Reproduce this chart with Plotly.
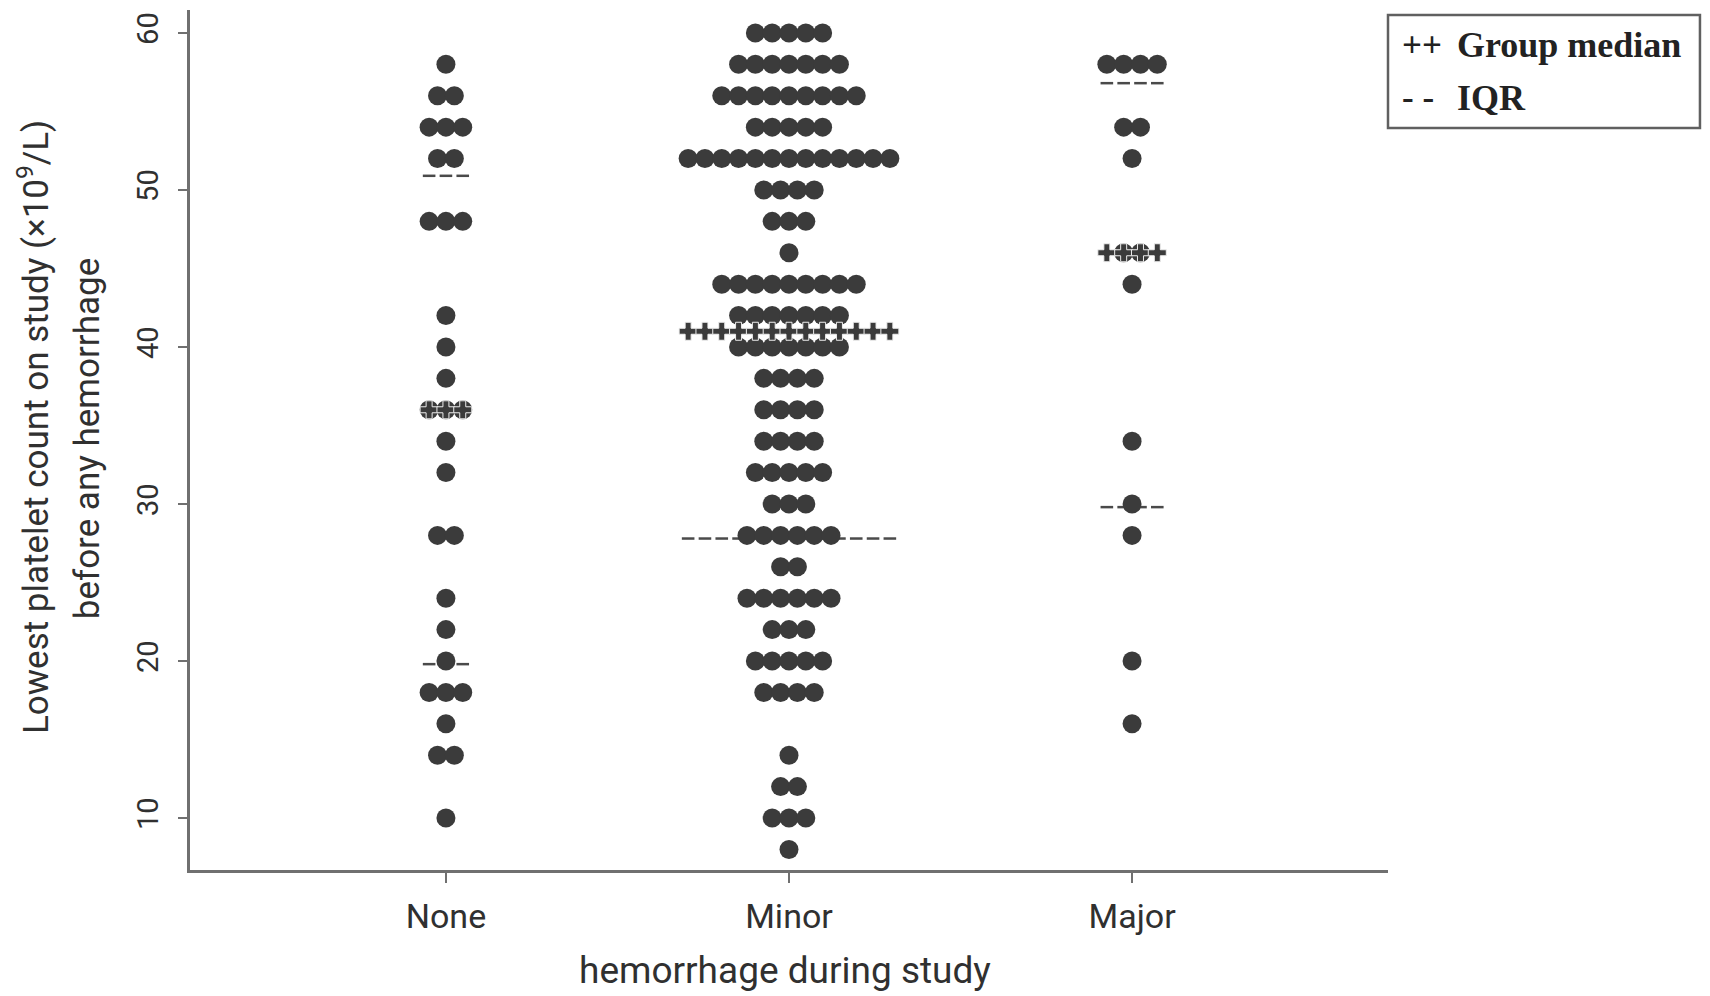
import plotly.graph_objects as go

# Hemorrhage groups on the x axis
groups = ["None", "Minor", "Major"]

# Lowest platelet count values (x10^9/L) and number of patients at each value
none_values = [58, 56, 54, 52, 48, 42, 40, 38, 36, 34, 32, 28, 24, 22, 20, 18, 16, 14, 10]
none_counts = [1, 2, 3, 2, 3, 1, 1, 1, 3, 1, 1, 2, 1, 1, 1, 3, 1, 2, 1]

minor_values = [60, 58, 56, 54, 52, 50, 48, 46, 44, 42, 40, 38, 36, 34, 32, 30,
                28, 26, 24, 22, 20, 18, 14, 12, 10, 8]
minor_counts = [5, 7, 9, 5, 13, 4, 3, 1, 9, 7, 7, 4, 4, 4, 5, 3,
                6, 2, 6, 3, 5, 4, 1, 2, 3, 1]

major_values = [58, 54, 52, 46, 44, 34, 30, 28, 20, 16]
major_counts = [4, 2, 1, 2, 1, 1, 1, 1, 1, 1]

# Summary statistics per group
group_medians = [36, 41, 46]
iqr_lower = [19.8, 27.8, 29.8]
iqr_upper = [50.9, 52, 56.8]

y_ticks = [10, 20, 30, 40, 50, 60]

DOT = "#3b3b3b"
AXIS = "#707070"
TEXT = "#303030"
FONT = "Roboto, 'Noto Sans', sans-serif"
STEP = 0.049  # horizontal spacing between stacked dots, in category units

group_data = [(none_values, none_counts), (minor_values, minor_counts), (major_values, major_counts)]

fig = go.Figure()


def slot_offsets(n):
    return [(k - (n - 1) / 2) * STEP for k in range(n)]


# IQR dashes (drawn beneath the dots)
for gi, (vals, cnts) in enumerate(group_data):
    width = max(cnts)
    xs = [gi + 1 + o for o in slot_offsets(width)]
    for q in (iqr_lower[gi], iqr_upper[gi]):
        fig.add_trace(go.Scatter(
            x=xs, y=[q] * len(xs), mode="markers",
            marker=dict(symbol="line-ew", size=9, line=dict(color="#4a4a4a", width=2.5)),
            hoverinfo="skip", showlegend=False))

# Dot plot columns
for gi, (vals, cnts) in enumerate(group_data):
    xs, ys = [], []
    for v, n in zip(vals, cnts):
        for o in slot_offsets(n):
            xs.append(gi + 1 + o)
            ys.append(v)
    fig.add_trace(go.Scatter(
        x=xs, y=ys, mode="markers", name=groups[gi],
        marker=dict(size=19, color=DOT, line=dict(width=0)),
        showlegend=False))

# Group medians drawn as a row of crosses
for gi, (vals, cnts) in enumerate(group_data):
    width = max(cnts)
    xs = [gi + 1 + o for o in slot_offsets(width)]
    m = group_medians[gi]
    fig.add_trace(go.Scatter(
        x=xs, y=[m] * len(xs), mode="lines+markers",
        line=dict(color=DOT, width=2),
        marker=dict(symbol="cross", size=15, color=DOT, line=dict(color="#eeeeee", width=1)),
        hoverinfo="skip", showlegend=False))

# Legend box
fig.add_shape(type="rect", xref="paper", yref="paper",
              x0=1.0, x1=1.2604, y0=0.8628, y1=0.9942,
              line=dict(color="#606060", width=2.5), fillcolor="white")
serif = "'Liberation Serif', 'DejaVu Serif', serif"
for sym, label, yy in (("++", "Group median", 0.9593), ("- -", "IQR", 0.8977)):
    fig.add_annotation(xref="paper", yref="paper", x=1.0100, y=yy, text=f"<b>{sym}</b>",
                       showarrow=False, xanchor="left", yanchor="middle",
                       font=dict(family=serif, size=35, color="#222222"))
    fig.add_annotation(xref="paper", yref="paper", x=1.0560, y=yy, text=f"<b>{label}</b>",
                       showarrow=False, xanchor="left", yanchor="middle",
                       font=dict(family=serif, size=36, color="#222222"))

# Axis titles
fig.add_annotation(xref="paper", yref="paper", x=-0.1311, y=0.515,
                   text="Lowest platelet count on study (×10<sup>9</sup>/L)",
                   textangle=-90, showarrow=False, xanchor="center", yanchor="middle",
                   font=dict(family=FONT, size=35, color=TEXT))
fig.add_annotation(xref="paper", yref="paper", x=-0.0860, y=0.502,
                   text="before any hemorrhage",
                   textangle=-90, showarrow=False, xanchor="center", yanchor="middle",
                   font=dict(family=FONT, size=35, color=TEXT))
fig.add_annotation(xref="paper", yref="paper", x=0.4967, y=-0.1174,
                   text="hemorrhage during study",
                   showarrow=False, xanchor="center", yanchor="middle",
                   font=dict(family=FONT, size=37, color=TEXT))

fig.update_xaxes(
    range=[0.254, 3.746], tickmode="array", tickvals=[1, 2, 3], ticktext=groups,
    showline=True, linecolor=AXIS, linewidth=3, ticks="outside", ticklen=10,
    tickwidth=2, tickcolor=AXIS, showgrid=False, zeroline=False,
    tickfont=dict(family=FONT, size=34, color=TEXT), ticklabelstandoff=4)
fig.update_yaxes(
    range=[6.69, 61.46], tickmode="array", tickvals=y_ticks,
    showline=True, linecolor=AXIS, linewidth=3, ticks="outside", ticklen=9,
    tickwidth=2, tickcolor=AXIS, showgrid=False, zeroline=False, tickangle=-90,
    tickfont=dict(family=FONT, size=29, color=TEXT), ticklabelstandoff=8)

fig.update_layout(
    width=1710, height=996, autosize=False,
    margin=dict(l=190, r=322, t=10, b=126),
    paper_bgcolor="white", plot_bgcolor="white",
    font=dict(family=FONT, color=TEXT))

fig.write_html("out.html")
